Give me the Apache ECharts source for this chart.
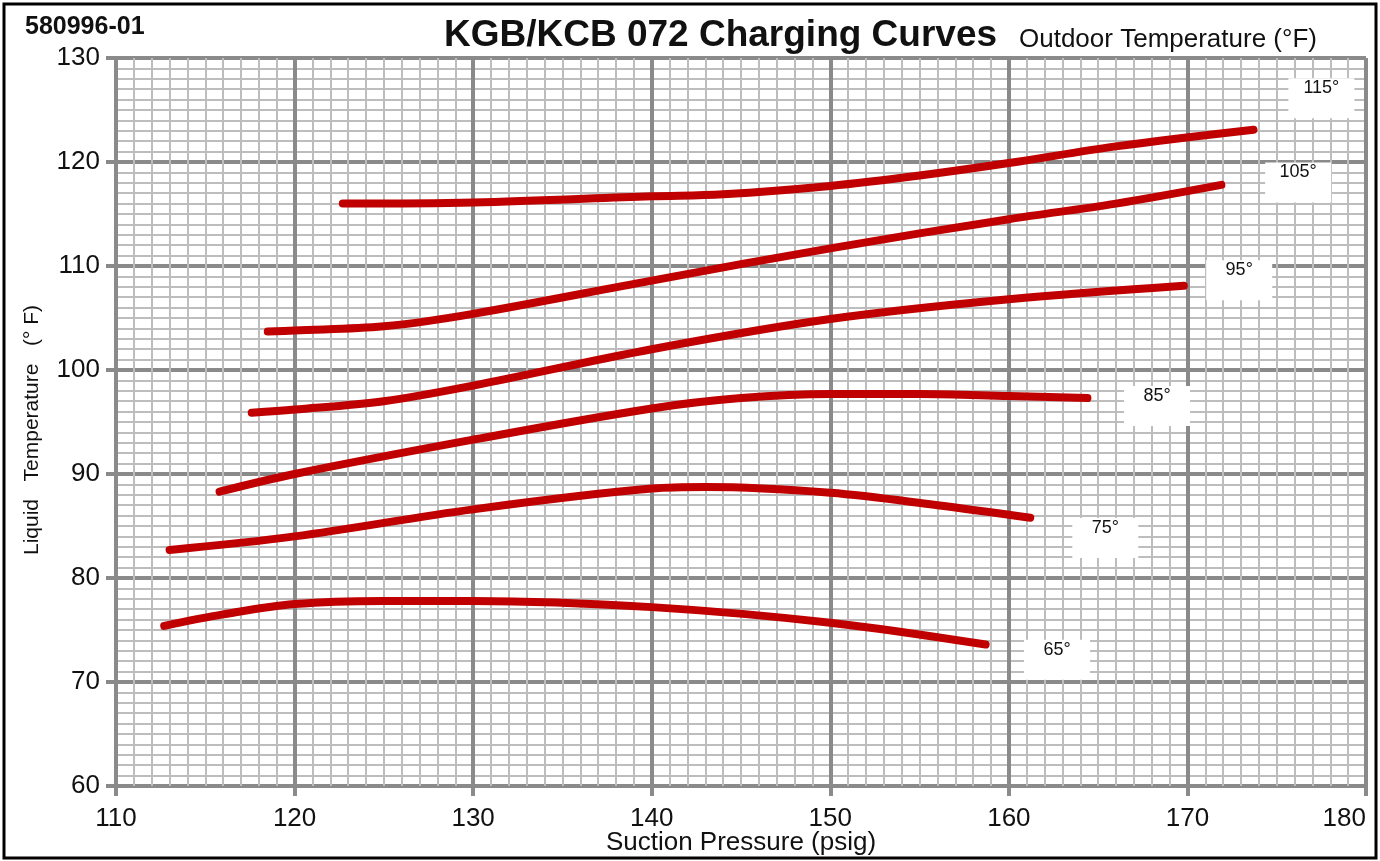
<!DOCTYPE html>
<html>
<head>
<meta charset="utf-8">
<script src="https://cdn.jsdelivr.net/npm/echarts@6/dist/echarts.min.js"></script>
<style>
  html, body { margin: 0; padding: 0; background: #fff; }
  #chart { width: 1380px; height: 861px; }
</style>
</head>
<body>
<div id="chart"></div>
<script>
// suction pressure (psig) vs liquid temperature (F), one curve per outdoor temp
const curve115 = [[122.7, 116.0], [130, 116.1], [140, 116.7], [144, 116.9], [150, 117.7], [155, 118.7], [160, 119.9], [166, 121.5], [173.7, 123.1]];
const curve105 = [[118.5, 103.7], [120, 103.8], [125, 104.2], [130, 105.4], [140, 108.6], [150, 111.7], [160, 114.5], [166, 116.0], [171.9, 117.8]];
const curve95 = [[117.6, 95.9], [120, 96.2], [125, 97.0], [130, 98.5], [140, 102.0], [150, 104.9], [160, 106.8], [169.8, 108.1]];
const curve85 = [[115.8, 88.3], [120, 90.0], [130, 93.3], [140, 96.3], [145, 97.3], [150, 97.7], [155, 97.7], [160, 97.5], [164.4, 97.3]];
const curve75 = [[113.0, 82.7], [120, 84.0], [130, 86.6], [140, 88.6], [143, 88.75], [150, 88.2], [156, 87.0], [161.2, 85.8]];
const curve65 = [[112.7, 75.4], [116, 76.5], [120, 77.5], [125, 77.8], [130, 77.8], [140, 77.2], [150, 75.7], [158.7, 73.6]];

const curveNames = ['65°', '75°', '85°', '95°', '105°', '115°'];
const curves = [curve65, curve75, curve85, curve95, curve105, curve115];
// where each outdoor temperature tag sits (data coords)
const tagPos = [[162.7, 73.1], [165.4, 84.8], [168.3, 97.5], [172.9, 109.6], [176.2, 119.0], [177.5, 127.1]];

const xTicks = [110, 180, 10];
const yTicks = [60, 130, 10];

const chart = echarts.init(document.getElementById('chart'));

const MAJOR = '#8a8a8a';
const MINOR = '#bdbdbd';
const FONT = '"Liberation Sans", Arial, sans-serif';

function axisBase(range, margin) {
    return {
        type: 'value',
        min: range[0],
        max: range[1],
        interval: range[2],
        axisLine: { show: false },
        axisTick: { show: true, length: 10, lineStyle: { color: MAJOR, width: 4 } },
        splitLine: { show: true, lineStyle: { color: MAJOR, width: 4 } },
        minorTick: { show: false, splitNumber: 10 },
        minorSplitLine: { show: true, lineStyle: { color: MINOR, width: 2 } },
        axisLabel: { color: '#111', fontSize: 26, fontFamily: FONT, margin: margin },
    };
}

const series = curves.map((c, i) => ({
    name: curveNames[i],
    type: 'line',
    data: c,
    smooth: 0.35,
    symbol: 'none',
    z: 5,
    lineStyle: { color: '#c00000', width: 8, cap: 'round', join: 'round' },
}));

// white tag boxes, hanging a little below the text
series.push({
    type: 'scatter',
    symbol: 'rect',
    symbolSize: [66, 40],
    symbolOffset: [0, 10],
    silent: true,
    z: 6,
    itemStyle: { color: '#fff', opacity: 1 },
    data: tagPos,
});

series.push({
    type: 'scatter',
    symbolSize: 0,
    silent: true,
    z: 7,
    itemStyle: { opacity: 1 },
    data: tagPos.map((p, i) => ({ value: p, name: curveNames[i] })),
    label: {
        show: true,
        position: 'inside',
        formatter: '{b}',
        color: '#111',
        fontSize: 18,
        fontFamily: FONT,
    },
});

chart.setOption({
    animation: false,
    backgroundColor: '#fff',
    textStyle: { fontFamily: FONT },
    title: [
        {
            text: '580996-01',
            left: 20, top: 10,
            textStyle: { fontSize: 25, fontWeight: 'bold', color: '#111', fontFamily: FONT },
        },
        {
            text: 'KGB/KCB 072 Charging Curves',
            left: 439, top: 12,
            textStyle: { fontSize: 37, fontWeight: 'bold', color: '#111', fontFamily: FONT },
        },
        {
            text: 'Outdoor Temperature (°F)',
            left: 1014, top: 22,
            textStyle: { fontSize: 26, fontWeight: 'normal', color: '#111', fontFamily: FONT },
        },
    ],
    grid: { left: 116, top: 58, right: 14, bottom: 75, outerBoundsMode: 'none', containLabel: false },
    xAxis: Object.assign(axisBase(xTicks, 20), {
        name: 'Suction Pressure (psig)',
        nameLocation: 'middle',
        nameGap: 44,
        nameMoveOverlap: false,
        nameTextStyle: { fontSize: 26, color: '#111', fontFamily: FONT },
    }),
    yAxis: axisBase(yTicks, 16),
    graphic: [
        {
            type: 'rect',
            silent: true,
            shape: { x: 4, y: 4, width: 1372, height: 854 },
            style: { fill: 'none', stroke: '#000', lineWidth: 3 },
        },
        {
            type: 'text',
            silent: true,
            x: 32, y: 430,
            rotation: Math.PI / 2,
            style: {
                text: 'Liquid   Temperature   (° F)',
                fill: '#111',
                font: '21px ' + FONT,
                align: 'center',
                verticalAlign: 'middle',
            },
        },
    ],
    series: series,
});
// keep the last x label inside the frame, as in the print
chart.setOption({ xAxis: { axisLabel: { alignMaxLabel: 'right' } } });
</script>
</body>
</html>
